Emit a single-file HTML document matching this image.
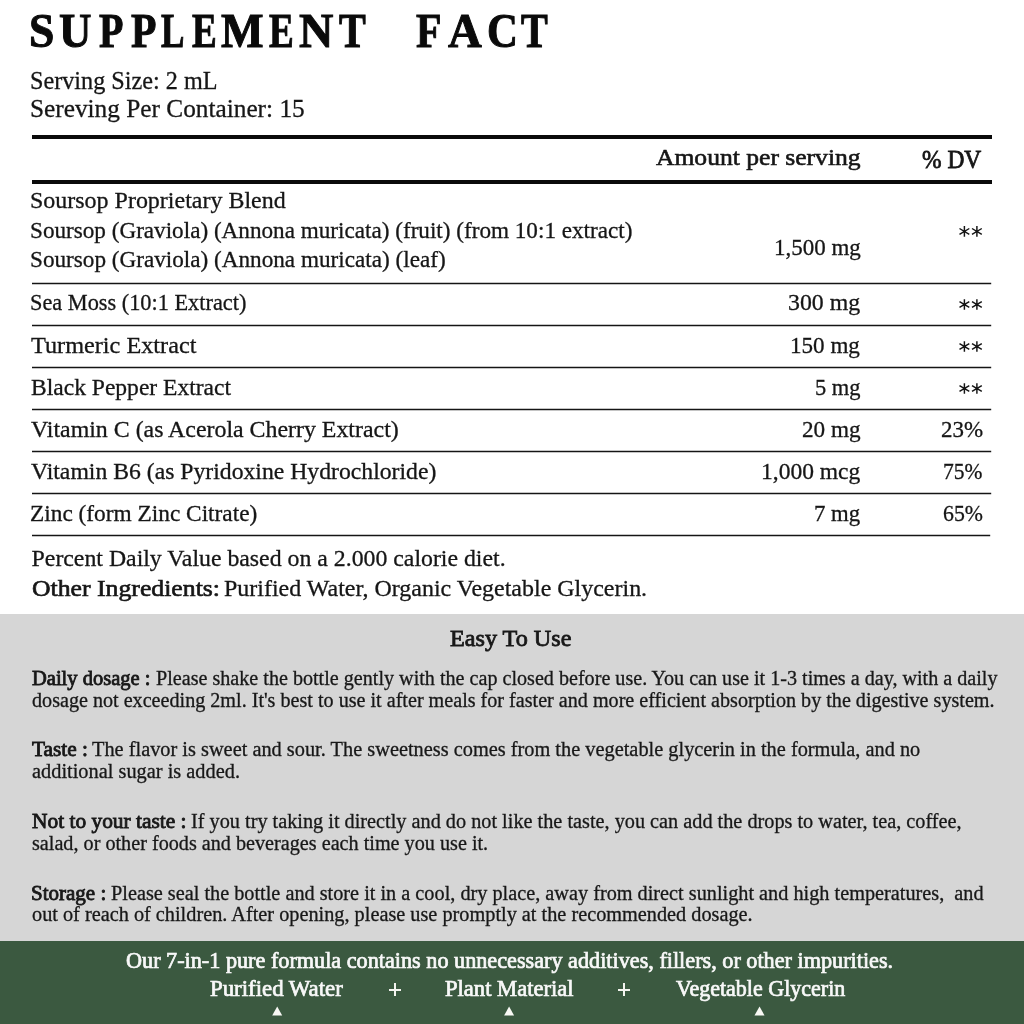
<!DOCTYPE html>
<html><head><meta charset="utf-8"><title>Supplement Fact</title><style>
html,body{margin:0;padding:0;width:1024px;height:1024px;overflow:hidden;background:#fff}
.t{position:absolute;white-space:nowrap;line-height:1;transform-origin:0 0;font-family:"Liberation Serif",serif;filter:grayscale(1)}
.m{display:inline-block;width:0;height:0;vertical-align:baseline}
</style></head><body>
<div style="position:absolute;left:0;top:614px;width:1024px;height:327px;background:#d6d6d6"></div>
<div style="position:absolute;left:0;top:941px;width:1024px;height:83px;background:#3b5940"></div>
<div style="position:absolute;left:32px;top:135px;width:960px;height:4px;background:#0a0a0a"></div>
<div style="position:absolute;left:32px;top:180px;width:960px;height:4px;background:#0a0a0a"></div>
<svg style="position:absolute;left:0;top:0" width="1024" height="1024" viewBox="0 0 1024 1024"><g stroke="#151515" stroke-width="1.6"><path d="M32 283.50H991.2"/><path d="M32 325.50H991.2"/><path d="M32 367.50H991.2"/><path d="M32 409.50H991.2"/><path d="M32 451.50H991.2"/><path d="M32 493.50H991.2"/><path d="M32 535.50H990.2"/></g></svg>
<svg style="position:absolute;left:0;top:0" width="1024" height="1024" viewBox="0 0 1024 1024"><g stroke="#141414" stroke-width="1.45" fill="none"><path d="M964.4 226.1V236.7M959.5 228.5L969.3 234.3M959.5 234.3L969.3 228.5"/><path d="M976.9 226.1V236.7M972.0 228.5L981.8 234.3M972.0 234.3L981.8 228.5"/><path d="M964.4 299.2V309.8M959.5 301.6L969.3 307.4M959.5 307.4L969.3 301.6"/><path d="M976.9 299.2V309.8M972.0 301.6L981.8 307.4M972.0 307.4L981.8 301.6"/><path d="M964.4 341.2V351.8M959.5 343.6L969.3 349.4M959.5 349.4L969.3 343.6"/><path d="M976.9 341.2V351.8M972.0 343.6L981.8 349.4M972.0 349.4L981.8 343.6"/><path d="M964.4 383.2V393.8M959.5 385.6L969.3 391.4M959.5 391.4L969.3 385.6"/><path d="M976.9 383.2V393.8M972.0 385.6L981.8 391.4M972.0 391.4L981.8 385.6"/></g></svg>
<div style="position:absolute;left:388.7px;top:988.8px;width:12.6px;height:2.1px;background:#f4f4ef"></div>
<div style="position:absolute;left:393.9px;top:982.9px;width:2.1px;height:13.4px;background:#f4f4ef"></div>
<div style="position:absolute;left:617.5px;top:988.8px;width:12.6px;height:2.1px;background:#f4f4ef"></div>
<div style="position:absolute;left:622.8px;top:982.9px;width:2.1px;height:13.4px;background:#f4f4ef"></div>
<svg style="position:absolute;left:0;top:0" width="1024" height="1024" viewBox="0 0 1024 1024"><g fill="#f8f8f4"><path d="M277.20 1006.6L272.20 1015.4L282.20 1015.4Z"/><path d="M509.10 1006.6L504.10 1015.4L514.10 1015.4Z"/><path d="M759.50 1006.6L754.50 1015.4L764.50 1015.4Z"/></g></svg>
<div class="t" id="t0" style="left:29.05px;top:6.81px;font-size:48.50px;font-weight:700;color:#0a0a0a;transform:scaleX(0.9401);-webkit-text-stroke:1.00px #0a0a0a;"><i class="m"></i>S</div>
<div class="t" id="t1" style="left:58.62px;top:6.81px;font-size:48.50px;font-weight:700;color:#0a0a0a;transform:scaleX(0.9258);-webkit-text-stroke:1.00px #0a0a0a;"><i class="m"></i>U</div>
<div class="t" id="t2" style="left:98.89px;top:6.81px;font-size:48.50px;font-weight:700;color:#0a0a0a;transform:scaleX(0.8240);-webkit-text-stroke:1.00px #0a0a0a;"><i class="m"></i>P</div>
<div class="t" id="t3" style="left:130.59px;top:6.81px;font-size:48.50px;font-weight:700;color:#0a0a0a;transform:scaleX(0.8585);-webkit-text-stroke:1.00px #0a0a0a;"><i class="m"></i>P</div>
<div class="t" id="t4" style="left:161.22px;top:6.81px;font-size:48.50px;font-weight:700;color:#0a0a0a;transform:scaleX(0.7233);-webkit-text-stroke:1.00px #0a0a0a;"><i class="m"></i>L</div>
<div class="t" id="t5" style="left:191.65px;top:6.81px;font-size:48.50px;font-weight:700;color:#0a0a0a;transform:scaleX(0.7643);-webkit-text-stroke:1.00px #0a0a0a;"><i class="m"></i>E</div>
<div class="t" id="t6" style="left:221.03px;top:6.81px;font-size:48.50px;font-weight:700;color:#0a0a0a;transform:scaleX(0.9292);-webkit-text-stroke:1.00px #0a0a0a;"><i class="m"></i>M</div>
<div class="t" id="t7" style="left:269.20px;top:6.81px;font-size:48.50px;font-weight:700;color:#0a0a0a;transform:scaleX(0.7643);-webkit-text-stroke:1.00px #0a0a0a;"><i class="m"></i>E</div>
<div class="t" id="t8" style="left:298.99px;top:6.81px;font-size:48.50px;font-weight:700;color:#0a0a0a;transform:scaleX(0.9794);-webkit-text-stroke:1.00px #0a0a0a;"><i class="m"></i>N</div>
<div class="t" id="t9" style="left:339.12px;top:6.81px;font-size:48.50px;font-weight:700;color:#0a0a0a;transform:scaleX(0.8285);-webkit-text-stroke:1.00px #0a0a0a;"><i class="m"></i>T</div>
<div class="t" id="t10" style="left:416.09px;top:6.81px;font-size:48.50px;font-weight:700;color:#0a0a0a;transform:scaleX(0.8590);-webkit-text-stroke:1.00px #0a0a0a;"><i class="m"></i>F</div>
<div class="t" id="t11" style="left:447.51px;top:6.81px;font-size:48.50px;font-weight:700;color:#0a0a0a;transform:scaleX(0.9642);-webkit-text-stroke:1.00px #0a0a0a;"><i class="m"></i>A</div>
<div class="t" id="t12" style="left:487.23px;top:6.81px;font-size:48.50px;font-weight:700;color:#0a0a0a;transform:scaleX(0.8830);-webkit-text-stroke:1.00px #0a0a0a;"><i class="m"></i>C</div>
<div class="t" id="t13" style="left:520.52px;top:6.81px;font-size:48.50px;font-weight:700;color:#0a0a0a;transform:scaleX(0.8279);-webkit-text-stroke:1.00px #0a0a0a;"><i class="m"></i>T</div>
<div class="t" id="s1" style="left:30.03px;top:68.21px;font-size:25.00px;font-weight:400;color:#161616;transform:scaleX(0.9680);-webkit-text-stroke:0.30px #161616;"><i class="m"></i>Serving Size: 2 mL</div>
<div class="t" id="s2" style="left:29.99px;top:96.10px;font-size:25.00px;font-weight:400;color:#161616;transform:scaleX(1.0118);-webkit-text-stroke:0.30px #161616;"><i class="m"></i>Sereving Per Container: 15</div>
<div class="t" id="h1" style="left:655.61px;top:146.31px;font-size:23.50px;font-weight:400;color:#161616;transform:scaleX(1.0885);-webkit-text-stroke:0.60px #161616;"><i class="m"></i>Amount per serving</div>
<div class="t" id="h2" style="left:922.00px;top:146.81px;font-size:26.00px;font-weight:400;color:#161616;transform:scaleX(0.9023);-webkit-text-stroke:0.80px #161616;"><i class="m"></i>% DV</div>
<div class="t" id="r1a" style="left:29.96px;top:189.21px;font-size:23.00px;font-weight:400;color:#161616;transform:scaleX(1.0422);-webkit-text-stroke:0.30px #161616;"><i class="m"></i>Soursop Proprietary Blend</div>
<div class="t" id="r1b" style="left:30.00px;top:218.81px;font-size:23.00px;font-weight:400;color:#161616;transform:scaleX(1.0067);-webkit-text-stroke:0.30px #161616;"><i class="m"></i>Soursop (Graviola) (Annona muricata) (fruit) (from 10:1 extract)</div>
<div class="t" id="r1c" style="left:29.99px;top:248.01px;font-size:23.00px;font-weight:400;color:#161616;transform:scaleX(1.0075);-webkit-text-stroke:0.30px #161616;"><i class="m"></i>Soursop (Graviola) (Annona muricata) (leaf)</div>
<div class="t" id="v1" style="left:773.65px;top:236.01px;font-size:23.00px;font-weight:400;color:#161616;transform:scaleX(0.9984);-webkit-text-stroke:0.30px #161616;"><i class="m"></i>1,500 mg</div>
<div class="t" id="r2" style="left:30.03px;top:291.40px;font-size:23.00px;font-weight:400;color:#161616;transform:scaleX(0.9705);-webkit-text-stroke:0.30px #161616;"><i class="m"></i>Sea Moss (10:1 Extract)</div>
<div class="t" id="v2" style="left:788.01px;top:291.40px;font-size:23.00px;font-weight:400;color:#161616;transform:scaleX(1.0351);-webkit-text-stroke:0.30px #161616;"><i class="m"></i>300 mg</div>
<div class="t" id="r3" style="left:31.00px;top:333.51px;font-size:23.00px;font-weight:400;color:#161616;transform:scaleX(1.0540);-webkit-text-stroke:0.30px #161616;"><i class="m"></i>Turmeric Extract</div>
<div class="t" id="v3" style="left:790.36px;top:333.51px;font-size:23.00px;font-weight:400;color:#161616;transform:scaleX(1.0032);-webkit-text-stroke:0.30px #161616;"><i class="m"></i>150 mg</div>
<div class="t" id="r4" style="left:31.00px;top:375.71px;font-size:23.00px;font-weight:400;color:#161616;transform:scaleX(1.0237);-webkit-text-stroke:0.30px #161616;"><i class="m"></i>Black Pepper Extract</div>
<div class="t" id="v4" style="left:814.62px;top:375.71px;font-size:23.00px;font-weight:400;color:#161616;transform:scaleX(0.9755);-webkit-text-stroke:0.30px #161616;"><i class="m"></i>5 mg</div>
<div class="t" id="r5" style="left:31.00px;top:417.71px;font-size:23.00px;font-weight:400;color:#161616;transform:scaleX(1.0377);-webkit-text-stroke:0.30px #161616;"><i class="m"></i>Vitamin C (as Acerola Cherry Extract)</div>
<div class="t" id="v5" style="left:801.53px;top:417.71px;font-size:23.00px;font-weight:400;color:#161616;transform:scaleX(1.0077);-webkit-text-stroke:0.30px #161616;"><i class="m"></i>20 mg</div>
<div class="t" id="d5" style="left:941.16px;top:417.71px;font-size:23.00px;font-weight:400;color:#161616;transform:scaleX(0.9983);-webkit-text-stroke:0.30px #161616;"><i class="m"></i>23%</div>
<div class="t" id="r6" style="left:31.00px;top:459.71px;font-size:23.00px;font-weight:400;color:#161616;transform:scaleX(1.0304);-webkit-text-stroke:0.30px #161616;"><i class="m"></i>Vitamin B6 (as Pyridoxine Hydrochloride)</div>
<div class="t" id="v6" style="left:761.19px;top:459.71px;font-size:23.00px;font-weight:400;color:#161616;transform:scaleX(1.0221);-webkit-text-stroke:0.30px #161616;"><i class="m"></i>1,000 mcg</div>
<div class="t" id="d6" style="left:943.22px;top:459.71px;font-size:23.00px;font-weight:400;color:#161616;transform:scaleX(0.9351);-webkit-text-stroke:0.30px #161616;"><i class="m"></i>75%</div>
<div class="t" id="r7" style="left:30.01px;top:502.31px;font-size:23.00px;font-weight:400;color:#161616;transform:scaleX(1.0141);-webkit-text-stroke:0.30px #161616;"><i class="m"></i>Zinc (form Zinc Citrate)</div>
<div class="t" id="v7" style="left:814.23px;top:502.31px;font-size:23.00px;font-weight:400;color:#161616;transform:scaleX(0.9884);-webkit-text-stroke:0.30px #161616;"><i class="m"></i>7 mg</div>
<div class="t" id="d7" style="left:943.17px;top:502.31px;font-size:23.00px;font-weight:400;color:#161616;transform:scaleX(0.9478);-webkit-text-stroke:0.30px #161616;"><i class="m"></i>65%</div>
<div class="t" id="n1" style="left:31.58px;top:547.00px;font-size:23.80px;font-weight:400;color:#161616;transform:scaleX(1.0000);-webkit-text-stroke:0.30px #161616;"><i class="m"></i>Percent Daily Value based on a 2.000 calorie diet.</div>
<div class="t" id="n2" style="left:31.58px;top:577.01px;font-size:23.80px;font-weight:400;color:#161616;transform:scaleX(1.0815);-webkit-text-stroke:0.65px #161616;"><i class="m"></i>Other Ingredients:</div>
<div class="t" id="n3" style="left:224.18px;top:577.01px;font-size:23.80px;font-weight:400;color:#161616;transform:scaleX(1.0073);-webkit-text-stroke:0.30px #161616;"><i class="m"></i>Purified Water, Organic Vegetable Glycerin.</div>
<div class="t" id="e0" style="left:450.39px;top:626.71px;font-size:23.50px;font-weight:400;color:#181818;transform:scaleX(1.0290);-webkit-text-stroke:0.80px #181818;"><i class="m"></i>Easy To Use</div>
<div class="t" id="p0a" style="left:31.61px;top:668.21px;font-size:20.00px;font-weight:400;color:#181818;transform:scaleX(1.0253);-webkit-text-stroke:0.80px #181818;"><i class="m"></i>Daily dosage :</div>
<div class="t" id="p0b" style="left:155.58px;top:668.21px;font-size:20.00px;font-weight:400;color:#181818;transform:scaleX(1.0062);-webkit-text-stroke:0.30px #181818;"><i class="m"></i>Please shake the bottle gently with the cap closed before use. You can use it 1-3 times a day, with a daily</div>
<div class="t" id="p0c" style="left:31.62px;top:689.71px;font-size:20.00px;font-weight:400;color:#181818;transform:scaleX(1.0065);-webkit-text-stroke:0.30px #181818;"><i class="m"></i>dosage not exceeding 2ml. It's best to use it after meals for faster and more efficient absorption by the digestive system.</div>
<div class="t" id="p1a" style="left:31.59px;top:739.11px;font-size:20.00px;font-weight:400;color:#181818;transform:scaleX(1.0653);-webkit-text-stroke:0.80px #181818;"><i class="m"></i>Taste :</div>
<div class="t" id="p1b" style="left:92.00px;top:739.11px;font-size:20.00px;font-weight:400;color:#181818;transform:scaleX(1.0170);-webkit-text-stroke:0.30px #181818;"><i class="m"></i>The flavor is sweet and sour. The sweetness comes from the vegetable glycerin in the formula, and no</div>
<div class="t" id="p1c" style="left:31.62px;top:761.31px;font-size:20.00px;font-weight:400;color:#181818;transform:scaleX(1.0177);-webkit-text-stroke:0.30px #181818;"><i class="m"></i>additional sugar is added.</div>
<div class="t" id="p2a" style="left:31.59px;top:811.31px;font-size:20.00px;font-weight:400;color:#181818;transform:scaleX(1.0700);-webkit-text-stroke:0.80px #181818;"><i class="m"></i>Not to your taste :</div>
<div class="t" id="p2b" style="left:191.00px;top:811.31px;font-size:20.00px;font-weight:400;color:#181818;transform:scaleX(1.0129);-webkit-text-stroke:0.30px #181818;"><i class="m"></i>If you try taking it directly and do not like the taste, you can add the drops to water, tea, coffee,</div>
<div class="t" id="p2c" style="left:31.55px;top:833.31px;font-size:20.00px;font-weight:400;color:#181818;transform:scaleX(1.0090);-webkit-text-stroke:0.30px #181818;"><i class="m"></i>salad, or other foods and beverages each time you use it.</div>
<div class="t" id="p3a" style="left:30.56px;top:882.81px;font-size:20.00px;font-weight:400;color:#181818;transform:scaleX(1.0500);-webkit-text-stroke:0.80px #181818;"><i class="m"></i>Storage :</div>
<div class="t" id="p3b" style="left:110.97px;top:882.81px;font-size:20.00px;font-weight:400;color:#181818;transform:scaleX(1.0130);-webkit-text-stroke:0.30px #181818;"><i class="m"></i>Please seal the bottle and store it in a cool, dry place, away from direct sunlight and high temperatures,&nbsp; and</div>
<div class="t" id="p3c" style="left:31.62px;top:904.41px;font-size:20.00px;font-weight:400;color:#181818;transform:scaleX(1.0138);-webkit-text-stroke:0.30px #181818;"><i class="m"></i>out of reach of children. After opening, please use promptly at the recommended dosage.</div>
<div class="t" id="g1" style="left:125.60px;top:949.61px;font-size:22.40px;font-weight:400;color:#f8f8f4;transform:scaleX(0.9917);-webkit-text-stroke:0.72px #f8f8f4;"><i class="m"></i>Our 7-in-1 pure formula contains no unnecessary additives, fillers, or other impurities.</div>
<div class="t" id="g2" style="left:210.40px;top:978.40px;font-size:22.40px;font-weight:400;color:#f8f8f4;transform:scaleX(1.0200);-webkit-text-stroke:0.72px #f8f8f4;"><i class="m"></i>Purified Water</div>
<div class="t" id="g3" style="left:445.20px;top:978.21px;font-size:22.40px;font-weight:400;color:#f8f8f4;transform:scaleX(1.0088);-webkit-text-stroke:0.72px #f8f8f4;"><i class="m"></i>Plant Material</div>
<div class="t" id="g4" style="left:675.79px;top:977.71px;font-size:22.40px;font-weight:400;color:#f8f8f4;transform:scaleX(0.9828);-webkit-text-stroke:0.72px #f8f8f4;"><i class="m"></i>Vegetable Glycerin</div>
</body></html>
